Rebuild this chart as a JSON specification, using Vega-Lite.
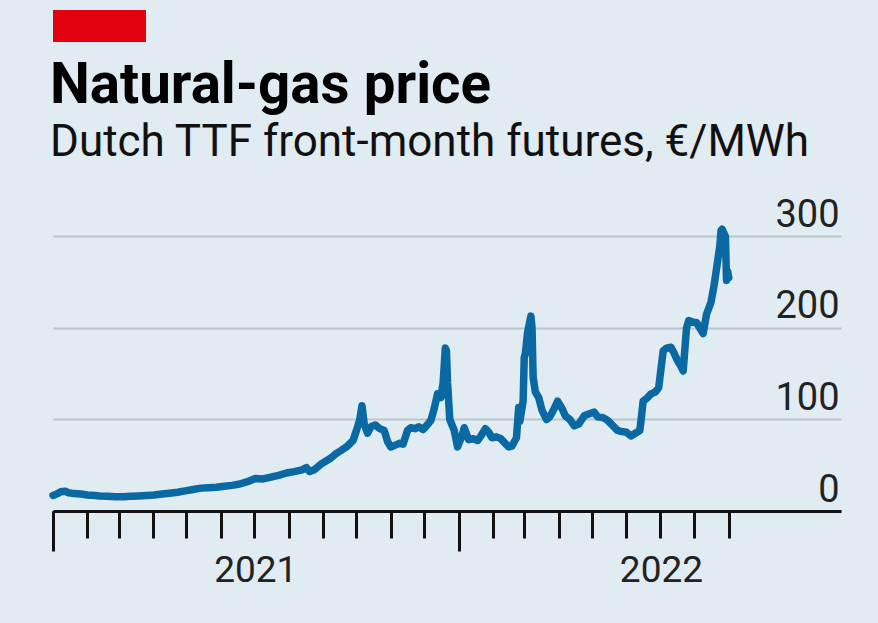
{
  "$schema": "https://vega.github.io/schema/vega-lite/v6.json",
  "background": "#e1ebf2",
  "padding": {"left": 49, "top": 10, "right": 39, "bottom": 35},
  "config": {"view": {"stroke": null}, "font": "Roboto"},
  "spacing": 15,
  "vconcat": [
    {
      "width": 93,
      "height": 32,
      "data": {"values": [{"a": 0, "b": 1}]},
      "mark": {"type": "rect", "color": "#e3000f"},
      "encoding": {
        "x": {"field": "a", "type": "quantitative", "scale": {"domain": [0, 1], "nice": false}, "axis": null},
        "x2": {"field": "b"},
        "y": {"field": "a", "type": "quantitative", "scale": {"domain": [0, 1], "nice": false}, "axis": null},
        "y2": {"field": "b"}
      }
    },
    {
      "width": 788,
      "height": 302,
      "title": {
        "text": "Natural-gas price",
        "subtitle": "Dutch TTF front-month futures, €/MWh",
        "anchor": "start",
        "frame": "group",
        "font": "Roboto",
        "fontSize": 56.5,
        "fontWeight": "bold",
        "color": "#000000",
        "subtitleFont": "Roboto",
        "subtitleFontSize": 44,
        "subtitleColor": "#111111",
        "subtitlePadding": 7,
        "offset": 31,
        "dx": -3
      },
      "data": {
        "values": [
          {"d": "2021-01-01", "p": 17}, {"d": "2021-01-05", "p": 19}, {"d": "2021-01-08", "p": 21}, {"d": "2021-01-12", "p": 21.5},
          {"d": "2021-01-15", "p": 20}, {"d": "2021-01-20", "p": 19}, {"d": "2021-01-26", "p": 18.5}, {"d": "2021-02-01", "p": 17.5},
          {"d": "2021-02-08", "p": 17}, {"d": "2021-02-12", "p": 16.5}, {"d": "2021-02-19", "p": 16}, {"d": "2021-02-26", "p": 15.5},
          {"d": "2021-03-05", "p": 15.5}, {"d": "2021-03-12", "p": 16}, {"d": "2021-03-19", "p": 16.5}, {"d": "2021-03-26", "p": 17},
          {"d": "2021-04-02", "p": 17.5}, {"d": "2021-04-09", "p": 18.5}, {"d": "2021-04-16", "p": 19.5}, {"d": "2021-04-23", "p": 20.5},
          {"d": "2021-04-30", "p": 22}, {"d": "2021-05-07", "p": 23.5}, {"d": "2021-05-14", "p": 25}, {"d": "2021-05-21", "p": 25.5},
          {"d": "2021-05-28", "p": 26}, {"d": "2021-06-04", "p": 27}, {"d": "2021-06-11", "p": 28}, {"d": "2021-06-18", "p": 29.5},
          {"d": "2021-06-25", "p": 32}, {"d": "2021-07-02", "p": 35.5}, {"d": "2021-07-09", "p": 35}, {"d": "2021-07-16", "p": 37},
          {"d": "2021-07-23", "p": 39}, {"d": "2021-07-30", "p": 41.5}, {"d": "2021-08-06", "p": 43}, {"d": "2021-08-13", "p": 45},
          {"d": "2021-08-17", "p": 47.5}, {"d": "2021-08-20", "p": 43}, {"d": "2021-08-24", "p": 45}, {"d": "2021-08-31", "p": 52},
          {"d": "2021-09-07", "p": 57}, {"d": "2021-09-13", "p": 63}, {"d": "2021-09-17", "p": 66}, {"d": "2021-09-22", "p": 70},
          {"d": "2021-09-28", "p": 77}, {"d": "2021-10-01", "p": 88}, {"d": "2021-10-04", "p": 100}, {"d": "2021-10-06", "p": 115},
          {"d": "2021-10-08", "p": 95}, {"d": "2021-10-11", "p": 85}, {"d": "2021-10-14", "p": 92}, {"d": "2021-10-18", "p": 94},
          {"d": "2021-10-22", "p": 90}, {"d": "2021-10-26", "p": 88}, {"d": "2021-10-29", "p": 76}, {"d": "2021-11-01", "p": 70},
          {"d": "2021-11-05", "p": 72}, {"d": "2021-11-09", "p": 74}, {"d": "2021-11-12", "p": 73}, {"d": "2021-11-16", "p": 88},
          {"d": "2021-11-19", "p": 91}, {"d": "2021-11-23", "p": 90}, {"d": "2021-11-26", "p": 92}, {"d": "2021-11-30", "p": 89},
          {"d": "2021-12-03", "p": 93}, {"d": "2021-12-07", "p": 99}, {"d": "2021-12-10", "p": 112}, {"d": "2021-12-13", "p": 128},
          {"d": "2021-12-16", "p": 124}, {"d": "2021-12-18", "p": 140}, {"d": "2021-12-20", "p": 178}, {"d": "2021-12-21", "p": 175},
          {"d": "2021-12-22", "p": 140}, {"d": "2021-12-23", "p": 120}, {"d": "2021-12-24", "p": 100}, {"d": "2021-12-28", "p": 88},
          {"d": "2021-12-31", "p": 70}, {"d": "2022-01-04", "p": 82}, {"d": "2022-01-06", "p": 91}, {"d": "2022-01-10", "p": 78},
          {"d": "2022-01-14", "p": 79}, {"d": "2022-01-18", "p": 77}, {"d": "2022-01-21", "p": 82}, {"d": "2022-01-25", "p": 90},
          {"d": "2022-01-28", "p": 86}, {"d": "2022-01-31", "p": 80}, {"d": "2022-02-04", "p": 81}, {"d": "2022-02-08", "p": 79},
          {"d": "2022-02-11", "p": 75}, {"d": "2022-02-15", "p": 70}, {"d": "2022-02-18", "p": 71}, {"d": "2022-02-22", "p": 80},
          {"d": "2022-02-24", "p": 113}, {"d": "2022-02-25", "p": 98}, {"d": "2022-02-28", "p": 120}, {"d": "2022-03-01", "p": 168},
          {"d": "2022-03-02", "p": 172}, {"d": "2022-03-04", "p": 195}, {"d": "2022-03-07", "p": 213}, {"d": "2022-03-08", "p": 200},
          {"d": "2022-03-09", "p": 146}, {"d": "2022-03-11", "p": 130}, {"d": "2022-03-14", "p": 124}, {"d": "2022-03-17", "p": 110},
          {"d": "2022-03-21", "p": 100}, {"d": "2022-03-24", "p": 103}, {"d": "2022-03-28", "p": 112}, {"d": "2022-03-31", "p": 120},
          {"d": "2022-04-04", "p": 112}, {"d": "2022-04-07", "p": 104}, {"d": "2022-04-11", "p": 100}, {"d": "2022-04-15", "p": 93},
          {"d": "2022-04-19", "p": 95}, {"d": "2022-04-24", "p": 104}, {"d": "2022-04-28", "p": 106}, {"d": "2022-05-03", "p": 108},
          {"d": "2022-05-06", "p": 103}, {"d": "2022-05-11", "p": 102}, {"d": "2022-05-15", "p": 99}, {"d": "2022-05-19", "p": 94},
          {"d": "2022-05-24", "p": 88}, {"d": "2022-05-27", "p": 87}, {"d": "2022-06-01", "p": 86}, {"d": "2022-06-05", "p": 82},
          {"d": "2022-06-09", "p": 85}, {"d": "2022-06-13", "p": 88}, {"d": "2022-06-14", "p": 98}, {"d": "2022-06-16", "p": 120},
          {"d": "2022-06-20", "p": 124}, {"d": "2022-06-23", "p": 128}, {"d": "2022-06-27", "p": 130}, {"d": "2022-06-30", "p": 135},
          {"d": "2022-07-04", "p": 175}, {"d": "2022-07-07", "p": 178}, {"d": "2022-07-11", "p": 179}, {"d": "2022-07-14", "p": 172},
          {"d": "2022-07-17", "p": 164}, {"d": "2022-07-20", "p": 158}, {"d": "2022-07-22", "p": 153}, {"d": "2022-07-25", "p": 200},
          {"d": "2022-07-27", "p": 208}, {"d": "2022-08-01", "p": 206}, {"d": "2022-08-03", "p": 206}, {"d": "2022-08-06", "p": 200},
          {"d": "2022-08-09", "p": 194}, {"d": "2022-08-12", "p": 215}, {"d": "2022-08-16", "p": 228}, {"d": "2022-08-19", "p": 248},
          {"d": "2022-08-22", "p": 273}, {"d": "2022-08-24", "p": 290}, {"d": "2022-08-25", "p": 306}, {"d": "2022-08-26", "p": 308},
          {"d": "2022-08-29", "p": 300}, {"d": "2022-08-30", "p": 252}, {"d": "2022-08-31", "p": 262}, {"d": "2022-09-01", "p": 255}
        ]
      },
      "layer": [
        {
          "mark": {"type": "line", "color": "#0a68a3", "strokeWidth": 7.5, "strokeJoin": "round", "strokeCap": "round", "clip": false},
          "encoding": {
            "x": {
              "field": "d", "type": "temporal",
              "scale": {"type": "utc", "domain": [{"year": 2021, "month": 1, "date": 1, "utc": true}, {"year": 2022, "month": 12, "date": 11, "utc": true}]},
              "axis": {
                "orient": "bottom", "title": null, "labels": false, "grid": false,
                "values": [
                  {"year": 2021, "month": 1, "date": 1, "utc": true}, {"year": 2021, "month": 2, "date": 1, "utc": true},
                  {"year": 2021, "month": 3, "date": 1, "utc": true}, {"year": 2021, "month": 4, "date": 1, "utc": true},
                  {"year": 2021, "month": 5, "date": 1, "utc": true}, {"year": 2021, "month": 6, "date": 1, "utc": true},
                  {"year": 2021, "month": 7, "date": 1, "utc": true}, {"year": 2021, "month": 8, "date": 1, "utc": true},
                  {"year": 2021, "month": 9, "date": 1, "utc": true}, {"year": 2021, "month": 10, "date": 1, "utc": true},
                  {"year": 2021, "month": 11, "date": 1, "utc": true}, {"year": 2021, "month": 12, "date": 1, "utc": true},
                  {"year": 2022, "month": 1, "date": 1, "utc": true}, {"year": 2022, "month": 2, "date": 1, "utc": true},
                  {"year": 2022, "month": 3, "date": 1, "utc": true}, {"year": 2022, "month": 4, "date": 1, "utc": true},
                  {"year": 2022, "month": 5, "date": 1, "utc": true}, {"year": 2022, "month": 6, "date": 1, "utc": true},
                  {"year": 2022, "month": 7, "date": 1, "utc": true}, {"year": 2022, "month": 8, "date": 1, "utc": true},
                  {"year": 2022, "month": 9, "date": 1, "utc": true}
                ],
                "tickSize": 27, "tickWidth": 3, "tickColor": "#111111",
                "domainColor": "#111111", "domainWidth": 3, "zindex": 1
              }
            },
            "y": {
              "field": "p", "type": "quantitative",
              "scale": {"domain": [0, 330], "nice": false, "zero": true},
              "axis": {
                "orient": "right", "title": null, "values": [0, 100, 200, 300],
                "domain": false, "ticks": false, "tickSize": 0,
                "grid": true, "gridColor": "#bcc6cd", "gridWidth": 2,
                "labelAlign": "right", "labelBaseline": "alphabetic", "labelOffset": -10, "labelPadding": -2,
                "labelFont": "Roboto", "labelFontSize": 38, "labelColor": "#222222"
              }
            }
          }
        },
        {
          "mark": {"type": "point", "opacity": 0},
          "encoding": {
            "x": {
              "field": "d", "type": "temporal",
              "scale": {"type": "utc", "domain": [{"year": 2021, "month": 1, "date": 1, "utc": true}, {"year": 2022, "month": 12, "date": 11, "utc": true}]},
              "axis": {
                "orient": "bottom", "title": null, "labels": false, "grid": false, "domain": false,
                "values": [{"year": 2021, "month": 1, "date": 1, "utc": true}, {"year": 2022, "month": 1, "date": 1, "utc": true}],
                "tickSize": 40, "tickWidth": 3, "tickColor": "#111111"
              }
            },
            "y": {"field": "p", "type": "quantitative"}
          }
        },
        {
          "mark": {"type": "point", "opacity": 0},
          "encoding": {
            "x": {
              "field": "d", "type": "temporal",
              "scale": {"type": "utc", "domain": [{"year": 2021, "month": 1, "date": 1, "utc": true}, {"year": 2022, "month": 12, "date": 11, "utc": true}]},
              "axis": {
                "orient": "bottom", "title": null, "grid": false, "domain": false, "ticks": false, "tickSize": 0,
                "values": [{"year": 2021, "month": 7, "date": 2, "utc": true}, {"year": 2022, "month": 7, "date": 2, "utc": true}],
                "labelExpr": "utcFormat(datum.value, '%Y')",
                "labelFont": "Roboto", "labelFontSize": 37, "labelColor": "#222222",
                "labelPadding": 41, "labelFlush": false, "labelOverlap": false
              }
            },
            "y": {"field": "p", "type": "quantitative"}
          }
        }
      ],
      "resolve": {"scale": {"x": "independent"}}
    }
  ]
}
